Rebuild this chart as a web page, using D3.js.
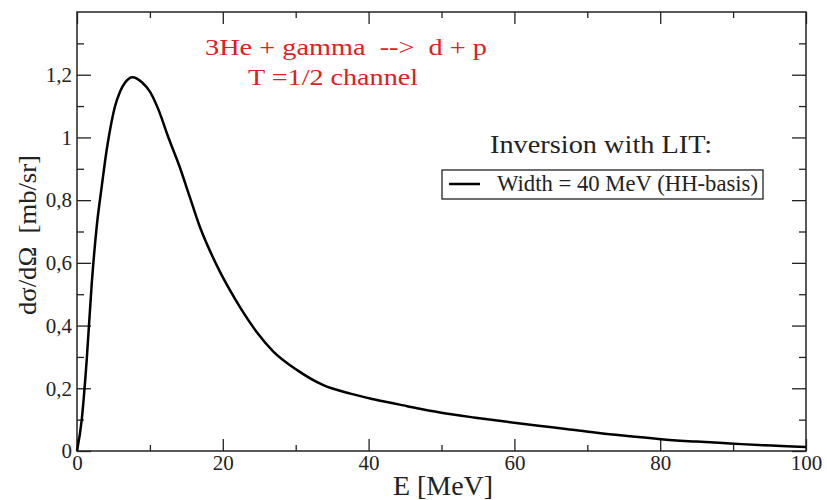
<!DOCTYPE html>
<html>
<head>
<meta charset="utf-8">
<script src="https://cdn.jsdelivr.net/npm/d3@7"></script>
<style>
  body { margin: 0; background: #fff; }
</style>
</head>
<body>
<svg id="chart" width="827" height="500" font-family="Liberation Serif"></svg>
<script>
// E [MeV] and d sigma / d Omega [mb/sr]
var energy = [0, 0.64, 1.33, 2.01, 2.7, 3.39, 4.07, 4.53, 5.2, 5.9, 6.6, 7.6, 8.9, 10, 11.2,
    12.5, 14.1, 15.5, 16.9, 18.3, 19.6, 21, 22.4, 24.7, 26.9, 30.2, 33.8, 37.5, 40.7, 45.3,
    49.8, 54.4, 59, 63.6, 66.8, 71.3, 75.9, 80.5, 85, 89.6, 94.2, 100];
var crossSection = [0, 0.098, 0.29, 0.53, 0.715, 0.843, 0.96, 1.024, 1.098, 1.146, 1.175, 1.192, 1.176, 1.146, 1.087,
    1.002, 0.905, 0.808, 0.712, 0.635, 0.572, 0.512, 0.457, 0.378, 0.318, 0.258, 0.21, 0.183, 0.165, 0.143,
    0.123, 0.107, 0.093, 0.08, 0.071, 0.058, 0.047, 0.037, 0.03, 0.024, 0.018, 0.013];

var xMajor = [0, 20, 40, 60, 80, 100];
var xMinor = [10, 30, 50, 70, 90];
var yMajor = [0, 0.2, 0.4, 0.6, 0.8, 1, 1.2];
var yMinor = [0.1, 0.3, 0.5, 0.7, 0.9, 1.1, 1.3];

var titleLines = ["3He + gamma  -->  d + p", "T =1/2 channel"];
var legendTitle = "Inversion with LIT:";
var seriesName = "Width = 40 MeV (HH-basis)";

var SERIF = "Liberation Serif";
var INK = "#222";

var margin = {top: 12, right: 21, bottom: 49, left: 77};
var svg = d3.select("#chart");
var width = 827 - margin.left - margin.right;
var height = 500 - margin.top - margin.bottom;

var g = svg.append("g").attr("transform", "translate(" + margin.left + "," + margin.top + ")");

var x = d3.scaleLinear().domain([0, 100]).range([0, width]);
var y = d3.scaleLinear().domain([0, 1.4]).range([height, 0]);

var fmt = function(d) { return String(d).replace(".", ","); };

function styleAxis(sel) {
    sel.attr("font-family", SERIF).attr("font-size", 21);
    sel.select(".domain").remove();
    sel.selectAll("line").attr("stroke", INK).attr("stroke-width", 1.3);
    sel.selectAll("text").attr("fill", INK).attr("font-family", SERIF);
}

// bottom / top ticks point inwards
g.append("g").attr("transform", "translate(0," + height + ")")
    .call(d3.axisBottom(x).tickValues(xMajor).tickSize(-12).tickPadding(4).tickFormat(d3.format("d")))
    .call(styleAxis);
g.append("g").attr("transform", "translate(0," + height + ")")
    .call(d3.axisBottom(x).tickValues(xMinor).tickSize(-6).tickFormat(""))
    .call(styleAxis);
g.append("g")
    .call(d3.axisTop(x).tickValues(xMajor).tickSize(-12).tickFormat(""))
    .call(styleAxis);
g.append("g")
    .call(d3.axisTop(x).tickValues(xMinor).tickSize(-6).tickFormat(""))
    .call(styleAxis);

g.append("g")
    .call(d3.axisLeft(y).tickValues(yMajor).tickSize(-14).tickPadding(5).tickFormat(fmt))
    .call(styleAxis);
g.append("g")
    .call(d3.axisLeft(y).tickValues(yMinor).tickSize(-7).tickFormat(""))
    .call(styleAxis);
g.append("g").attr("transform", "translate(" + width + ",0)")
    .call(d3.axisRight(y).tickValues(yMajor).tickSize(-14).tickFormat(""))
    .call(styleAxis);
g.append("g").attr("transform", "translate(" + width + ",0)")
    .call(d3.axisRight(y).tickValues(yMinor).tickSize(-7).tickFormat(""))
    .call(styleAxis);

g.append("rect")
    .attr("width", width).attr("height", height)
    .attr("fill", "none").attr("stroke", INK).attr("stroke-width", 1.5);

var line = d3.line()
    .x(function(d, i) { return x(energy[i]); })
    .y(function(d) { return y(d); })
    .curve(d3.curveMonotoneX);

g.append("path")
    .datum(crossSection)
    .attr("d", line)
    .attr("fill", "none")
    .attr("stroke", "#000")
    .attr("stroke-width", 2.5)
    .attr("stroke-linejoin", "round");

// text helper: the picture's glyphs are a bit wide, so fit to measured length
function label(parent, txt, px, len) {
    var t = parent.append("text")
        .attr("font-family", SERIF)
        .attr("font-size", px)
        .style("white-space", "pre")
        .attr("fill", INK)
        .text(txt);
    if (len) t.attr("textLength", len).attr("lengthAdjust", "spacingAndGlyphs");
    return t;
}

// axis titles
label(svg, "E [MeV]", 28, 100).attr("x", 393).attr("y", 495);
label(svg, "dσ/dΩ  [mb/sr]", 26, 160)
    .attr("transform", "translate(36,315) rotate(-90)");

// red annotation
var noteX = [205, 248], noteLen = [282, 170];
titleLines.forEach(function(s, i) {
    label(svg, s, 23, noteLen[i])
        .attr("x", noteX[i]).attr("y", 55 + i * 30)
        .attr("fill", "#e0201c");
});

// legend
label(svg, legendTitle, 25, 222).attr("x", 490).attr("y", 153);

var lg = svg.append("g").attr("transform", "translate(442,170)");
lg.append("rect")
    .attr("width", 321).attr("height", 29)
    .attr("fill", "#fff").attr("stroke", INK).attr("stroke-width", 1.3);
lg.append("line")
    .attr("x1", 7).attr("x2", 38).attr("y1", 14).attr("y2", 14)
    .attr("stroke", "#000").attr("stroke-width", 2.5);
label(lg, seriesName, 23, 261).attr("x", 55).attr("y", 21);
</script>
</body>
</html>
